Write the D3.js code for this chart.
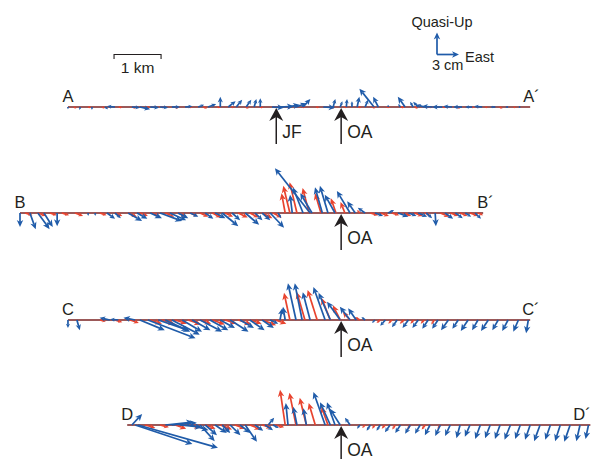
<!DOCTYPE html>
<html>
<head>
<meta charset="utf-8">
<script src="https://cdn.jsdelivr.net/npm/d3@7"></script>
<style>
  body { margin: 0; background: #fff; }
  svg { display: block; }
  text { font-family: "Liberation Sans", Arial, Helvetica, sans-serif; fill: #231f20; }
</style>
</head>
<body>
<div id="chart"></div>
<script>
// distance along the common baseline (km), east and quasi-up displacement (cm)

// profile A-A'
const aPos = [1.02, 1.28, 1.53, 1.81, 2.02, 2.38, 2.55, 2.77, 2.98, 3.23, 3.51, 3.79, 4.00, 4.26, 4.43, 4.60, 4.81, 4.98, 5.11, 5.36, 5.53, 5.70, 5.87, 6.02, 6.45, 6.66, 6.81, 6.94, 7.06, 7.17, 7.34, 7.53, 7.62, 7.83, 8.09, 8.19, 8.36, 8.47, 8.60, 8.77, 8.98, 9.19, 9.40, 9.62, 9.83, 10.11, 10.38, 10.64];
const aEast = [0, -0.1, 0, 0.4, -1.1, 1.1, 1.4, 1.2, 1.1, 1.1, 1.0, 0.8, 1.1, 0, 1.0, 0.8, 0.7, 0.3, 0, 1.6, 1.9, 1.6, 1.4, 1.0, 1.6, 0.3, 0.3, 0.1, 0, 0.3, 0.4, -2.0, -0.7, 0, -0.3, -1.0, -0.4, -0.7, -1.1, -1.4, -1.4, -1.2, -1.2, -1.0, -1.1, -0.7, -0.4, -0.3];
const aUp = [-0.3, -0.4, -0.4, -0.3, 0.1, -0.1, -0.3, -0.1, -0.1, 0, 0.1, 0.3, 0.4, 1.4, 0.8, 1.0, 1.0, 1.1, 1.2, -0.1, 0.1, 0.3, 0.5, 1.1, -0.1, 1.1, 0.8, 1.1, 0.8, 1.4, 1.0, 2.5, 1.4, 0.3, 0.4, 1.4, 0.7, 0.7, 0.3, 0.1, 0, 0.1, 0, 0, 0.1, 0, 0, 0];
const aRedPos = [1.15, 1.45, 1.75, 2.1, 2.4, 2.7, 3.0, 3.3, 3.6, 3.9, 4.2, 4.5, 4.8, 5.1, 5.4, 5.7, 6.0, 6.3, 6.6, 6.9, 7.2, 7.5, 7.8, 8.1, 8.4, 8.7, 9.0, 9.3, 9.6, 9.9, 10.2, 10.5];
const aRedEast = [0.3, 0.4, 0.3, 0.5, 0.4, 0.4, 0.5, 0.4, 0.4, 0.5, 0.4, 0.3, 0.4, 0.5, 0.4, 0.3, 0.4, 0.4, 0.5, 0.3, 0.4, 0.3, 0.4, 0.5, 0.4, 0.4, 0.3, 0.4, 0.4, 0.3, 0.4, 0.3];
const aRedUp = [-0.2, -0.1, -0.2, -0.1, -0.2, -0.1, -0.1, -0.2, -0.1, -0.2, -0.1, -0.1, -0.2, -0.1, -0.1, -0.2, -0.1, -0.1, -0.2, -0.1, -0.1, -0.2, -0.1, -0.1, -0.2, -0.1, -0.1, -0.2, -0.1, -0.1, -0.2, -0.1];

// profile B-B'
const bPos = [0.00, 0.21, 0.38, 0.51, 0.79, 1.45, 1.60, 1.85, 2.02, 2.30, 2.49, 2.77, 2.98, 3.19, 3.36, 3.62, 3.94, 4.15, 4.30, 4.51, 4.79, 5.00, 5.15, 5.32, 5.49, 5.79, 6.17, 6.02, 6.21, 6.43, 6.55, 6.70, 7.02, 7.13, 7.34, 7.55, 7.83, 8.04, 8.26, 8.47, 8.64, 8.83, 9.04, 9.26, 9.47, 9.68];
const bEast = [0, 0.8, 1.6, 1.2, 0, 0, 0, 1.1, 0.8, 1.9, 1.4, 1.6, 3.0, 2.2, 1.4, 1.1, 1.1, 1.4, 2.2, 1.1, 1.9, 1.0, 1.1, 1.9, 0.4, -0.3, -4.8, -1.4, -1.6, -1.0, -1.1, -1.4, -1.8, -1.1, -1.0, 1.1, 0.8, 1.4, 1.1, 1.2, 0.8, 0.1, 1.1, 1.0, 0.8, 0.8];
const bUp = [-1.9, -2.2, -2.2, -1.9, -1.8, -0.4, -0.4, -0.8, -0.7, -1.1, -0.8, -0.7, -1.1, -1.0, -0.7, -0.5, -0.8, -0.7, -1.8, -1.0, -1.6, -1.0, -1.0, -2.0, -0.7, 2.5, 6.1, 3.5, 2.7, 3.5, 3.7, 2.5, 3.0, 1.6, 0.7, -0.4, 0.4, -0.5, -0.4, -0.5, -0.7, -1.8, -0.8, -0.7, -0.5, -0.8];
const bRedPos = [0.11, 0.38, 0.64, 0.89, 1.17, 1.70, 2.02, 2.30, 2.55, 2.81, 3.09, 3.36, 3.62, 3.83, 4.09, 4.36, 4.64, 4.89, 5.15, 5.38, 5.64, 5.74, 5.89, 6.15, 6.40, 6.72, 6.91, 7.23, 7.45, 7.66, 7.91, 8.15, 8.38, 8.60, 8.94, 9.15, 9.36, 9.57, 9.74];
const bRedEast = [1.0, 1.1, 0.9, 1.0, 1.1, 0.9, 1.0, 1.2, 1.1, 1.0, 1.2, 1.1, 1.0, 1.1, 1.2, 1.1, 1.3, 1.2, 1.4, 1.2, -0.5, -0.9, -1.0, -0.9, -0.8, -0.7, -0.6, -0.4, 1.1, 1.2, 1.0, 1.1, 1.2, 0.8, 1.2, 1.1, 1.0, 1.1, 0.7];
const bRedUp = [-0.3, -0.4, -0.3, -0.3, -0.4, -0.3, -0.4, -0.5, -0.4, -0.4, -0.5, -0.5, -0.4, -0.5, -0.6, -0.5, -0.6, -0.6, -0.7, -0.6, 2.7, 3.7, 4.2, 3.4, 2.7, 2.0, 1.5, 0.4, -0.3, -0.4, -0.3, -0.4, -0.4, -0.3, -0.5, -0.4, -0.4, -0.4, -0.3];

// profile C-C'
const cPos = [1.02, 1.21, 1.91, 2.09, 2.45, 2.55, 2.72, 2.94, 3.09, 3.23, 3.45, 3.66, 3.83, 4.04, 4.26, 4.47, 4.68, 4.89, 5.15, 5.32, 5.53, 5.64, 5.87, 6.00, 6.17, 6.49, 6.60, 6.81, 7.02, 7.15, 7.34, 7.55, 7.77, 8.02, 8.26, 8.47, 8.68, 8.89, 9.11, 9.32, 9.53, 9.74, 9.96, 10.17, 10.38, 10.60, 10.81];
const cEast = [0, 0.4, -1.4, -1.1, -1.6, 3.4, 6.5, 4.1, 3.4, 3.8, 2.7, 2.5, 3.0, 2.5, 2.0, 2.5, 1.9, 2.0, 1.6, 1.1, 0.3, -0.3, -1.1, -1.0, -1.0, -1.6, -1.6, -1.8, -1.4, -1.1, -0.5, -0.4, -0.7, -0.7, -0.8, -0.8, -0.8, -0.8, -1.0, -0.8, -1.0, -0.8, -1.0, -0.8, -0.8, -0.7, -0.3];
const cUp = [-1.1, -1.4, 0.3, 0.1, 0.3, -1.4, -2.5, -1.4, -1.6, -2.0, -1.6, -1.4, -1.6, -1.4, -1.1, -1.6, -1.1, -1.4, -1.1, -0.5, 1.6, 1.8, 5.0, 5.0, 3.8, 4.5, 3.7, 2.5, 1.8, 1.6, 0.4, -0.4, -0.8, -1.0, -1.1, -1.1, -1.2, -1.2, -1.4, -1.2, -1.5, -1.4, -1.5, -1.4, -1.5, -1.6, -1.8];
const cRedPos = [1.70, 2.02, 2.34, 2.77, 3.02, 3.30, 3.57, 3.83, 4.09, 4.36, 4.64, 4.89, 5.15, 5.43, 5.74, 6.06, 6.32, 6.60, 6.81, 7.02, 7.23, 7.66, 7.91, 8.17, 8.38, 8.60, 8.81];
const cRedEast = [0.8, 1.0, 1.2, 1.6, 1.8, 1.6, 1.8, 1.5, 1.7, 1.6, 1.8, 1.6, 1.9, 1.5, -0.8, -1.1, -1.3, -1.2, -1.0, -1.0, -0.7, -0.5, -0.5, -0.6, -0.5, -0.5, -0.4];
const cRedUp = [-0.2, -0.3, -0.4, -0.5, -0.6, -0.5, -0.6, -0.5, -0.6, -0.5, -0.6, -0.5, -0.7, -0.5, 3.7, 3.8, 4.1, 3.0, 2.0, 1.1, 0.4, -0.4, -0.5, -0.5, -0.5, -0.5, -0.6];

// profile D-D'
const dPos = [2.38, 2.45, 2.51, 3.09, 3.23, 3.40, 3.62, 3.83, 3.94, 4.15, 4.30, 4.47, 4.68, 4.79, 5.00, 5.21, 5.28, 5.38, 5.70, 5.89, 6.09, 6.49, 6.60, 6.70, 6.81, 7.02, 7.23, 7.45, 7.66, 7.87, 8.09, 8.30, 8.51, 8.72, 8.94, 9.15, 9.36, 9.57, 9.79, 10.00, 10.21, 10.43, 10.64, 10.85, 11.06, 11.28, 11.49, 11.70, 11.91, 12.09];
const dEast = [1.4, 7.8, 10.9, 3.8, 3.4, 3.0, 2.5, 2.0, 1.6, 1.6, 1.1, 1.4, 1.4, 1.6, 1.1, 1.1, 0.8, 0.8, -0.3, -0.5, -0.4, -1.6, -1.4, -1.1, -1.4, -0.7, -0.4, -0.5, -0.5, -0.7, -0.7, -0.7, -0.7, -0.7, -0.7, -0.7, -0.5, -0.7, -0.7, -0.7, -0.7, -0.8, -0.7, -0.7, -0.8, -0.7, -0.7, -0.8, -0.5, -0.4];
const dUp = [1.5, -2.6, -3.1, 0.4, 0.3, -0.3, -0.7, -2.2, -1.4, -1.1, -1.1, -1.4, -1.1, -2.3, -0.8, -0.7, 1.0, -0.4, 3.0, 2.5, 2.3, 4.5, 3.1, 3.1, 2.2, 1.0, -0.5, -0.8, -0.8, -1.0, -1.1, -1.2, -1.2, -1.4, -1.5, -1.5, -1.8, -1.6, -1.9, -1.8, -1.9, -2.0, -1.9, -2.0, -2.2, -2.0, -2.2, -2.3, -2.2, -1.9];
const dRedPos = [2.66, 2.98, 3.30, 3.62, 3.94, 4.26, 4.57, 4.89, 5.15, 5.43, 5.64, 5.87, 6.09, 6.28, 6.55, 7.34, 7.55, 7.77, 7.98, 8.30, 8.62, 8.94];
const dRedEast = [1.4, 1.2, 1.5, 1.3, 1.4, 1.6, 1.4, 1.5, 1.3, 1.2, -0.7, -0.9, -0.9, -0.9, -0.9, -0.4, -0.4, -0.5, -0.4, -0.4, -0.5, -0.4];
const dRedUp = [-0.4, -0.3, -0.5, -0.4, -0.5, -0.6, -0.5, -0.6, -0.4, -0.3, 4.8, 4.4, 3.7, 3.0, 2.5, -0.4, -0.5, -0.5, -0.6, -0.6, -0.6, -0.5];

// profile names and extents (km)
const profileNames = ['A', 'B', 'C', 'D'];
const profileStart = [1.02, 0, 1.02, 2.28];
const profileEnd = [10.85, 9.85, 10.85, 12.13];

// faults crossed by the profiles (km)
const faultNames = ['JF', 'OA'];
const faultPos = [5.45, 6.83];

const width = 596;
const height = 459;
const rowY = [107, 213, 320, 425];
const primeShift = [7, 6, 8, 17];
const blue = '#1f5ba9';
const red = '#e8432e';

const x = d3.scaleLinear().domain([0, 12.25]).range([20, 596]);
const v = d3.scaleLinear().domain([0, 3]).range([0, 22]);

const svg = d3.select('#chart').append('svg')
  .attr('width', width)
  .attr('height', height);

// shaft + notched head for one vector
function vectorPaths(x0, y0, dx, dy, maxHead) {
  const len = Math.hypot(dx, dy);
  if (len < 0.3) return null;
  const ux = dx / len;
  const uy = dy / len;
  const hl = Math.min(maxHead, len * 0.55);
  const hw = hl * 0.46;
  const tx = x0 + dx;
  const ty = y0 + dy;
  const bx = tx - ux * hl;
  const by = ty - uy * hl;
  const nx = tx - ux * hl * 0.72;
  const ny = ty - uy * hl * 0.72;
  return {
    shaft: `M${x0},${y0}L${nx},${ny}`,
    head: `M${tx},${ty}L${bx - uy * hw},${by + ux * hw}L${nx},${ny}L${bx + uy * hw},${by - ux * hw}Z`,
  };
}

function drawVectors(g, y0, pos, east, up, color) {
  const vecs = pos.map((p, i) => vectorPaths(x(p), y0, v(east[i]), -v(up[i]), 7))
    .filter(d => d);
  g.selectAll(null).data(vecs).enter().append('path')
    .attr('d', d => d.shaft)
    .attr('stroke', color)
    .attr('stroke-width', 1.7)
    .attr('fill', 'none');
  g.selectAll(null).data(vecs).enter().append('path')
    .attr('d', d => d.head)
    .attr('fill', color);
}

function drawFault(g, xf, y0, label) {
  const tip = y0 + 1;
  g.append('line')
    .attr('x1', xf).attr('x2', xf)
    .attr('y1', tip + 8).attr('y2', y0 + 37)
    .attr('stroke', '#231f20')
    .attr('stroke-width', 1.5);
  g.append('path')
    .attr('d', `M${xf},${tip}L${xf + 7},${tip + 13}L${xf},${tip + 9}L${xf - 7},${tip + 13}Z`)
    .attr('fill', '#231f20');
  g.append('text')
    .attr('x', xf + 6)
    .attr('y', y0 + 31)
    .attr('font-size', 17.5)
    .text(label);
}

const series = [
  { blue: [aPos, aEast, aUp], red: [aRedPos, aRedEast, aRedUp], faults: [0, 1] },
  { blue: [bPos, bEast, bUp], red: [bRedPos, bRedEast, bRedUp], faults: [1] },
  { blue: [cPos, cEast, cUp], red: [cRedPos, cRedEast, cRedUp], faults: [1] },
  { blue: [dPos, dEast, dUp], red: [dRedPos, dRedEast, dRedUp], faults: [1] },
];

series.forEach((s, k) => {
  const y0 = rowY[k];
  const g = svg.append('g').attr('class', `profile-${profileNames[k]}`);

  g.append('line')
    .attr('x1', x(profileStart[k])).attr('x2', x(profileEnd[k]))
    .attr('y1', y0).attr('y2', y0)
    .attr('stroke', '#7a2222')
    .attr('stroke-width', 1.5);

  drawVectors(g, y0, s.red[0], s.red[1], s.red[2], red);
  drawVectors(g, y0, s.blue[0], s.blue[1], s.blue[2], blue);

  g.append('text')
    .attr('x', x(profileStart[k]))
    .attr('y', y0 - 5)
    .attr('text-anchor', 'middle')
    .attr('font-size', 16.5)
    .text(profileNames[k]);
  g.append('text')
    .attr('x', x(profileEnd[k]) - primeShift[k])
    .attr('y', y0 - 5)
    .attr('font-size', 16.5)
    .text(`${profileNames[k]}\u00b4`);

  s.faults.forEach((f) => {
    drawFault(g, x(faultPos[f]), y0, faultNames[f]);
  });
});

// scale bar: 1 km
const sb = svg.append('g');
const sbX0 = x(2.0);
const sbX1 = x(3.0);
sb.append('path')
  .attr('d', `M${sbX0},59V54.5H${sbX1}V59`)
  .attr('fill', 'none')
  .attr('stroke', '#231f20')
  .attr('stroke-width', 1.1);
sb.append('text')
  .attr('x', (sbX0 + sbX1) / 2)
  .attr('y', 73)
  .attr('text-anchor', 'middle')
  .attr('font-size', 15.5)
  .text('1 km');

// vector key: 3 cm east and quasi-up
const key = svg.append('g');
const kx = 437;
const ky = 54.5;
const kUp = vectorPaths(kx, ky, 0, -v(3), 7);
const kEast = vectorPaths(kx, ky, v(3), 0, 7);
[kUp, kEast].forEach((d) => {
  key.append('path').attr('d', d.shaft).attr('stroke', blue).attr('stroke-width', 1.7).attr('fill', 'none');
  key.append('path').attr('d', d.head).attr('fill', blue);
});
key.append('text').attr('x', 442).attr('y', 27).attr('text-anchor', 'middle')
  .attr('font-size', 14.5).text('Quasi-Up');
key.append('text').attr('x', 465).attr('y', 62).attr('font-size', 14.5).text('East');
key.append('text').attr('x', 432).attr('y', 70).attr('font-size', 14.5).text('3 cm');
</script>
</body>
</html>
